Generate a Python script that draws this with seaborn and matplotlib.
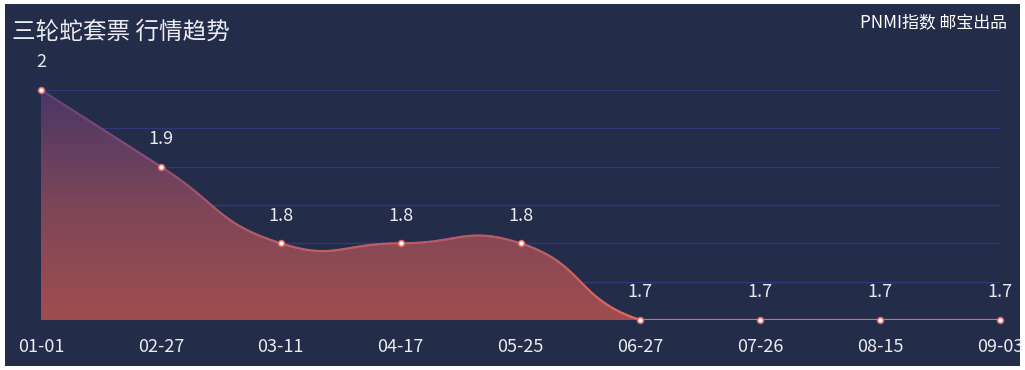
import numpy as np
import matplotlib
matplotlib.use("Agg")
import matplotlib.pyplot as plt
import seaborn as sns
import pandas as pd
from matplotlib.path import Path
from matplotlib.patches import PathPatch, Rectangle
from matplotlib.collections import LineCollection
from matplotlib.colors import LinearSegmentedColormap

# data
dates = ["01-01", "02-27", "03-11", "04-17", "05-25", "06-27", "07-26", "08-15", "09-03"]
prices = [2.0, 1.9, 1.8, 1.8, 1.8, 1.7, 1.7, 1.7, 1.7]
price_labels = ["2", "1.9", "1.8", "1.8", "1.8", "1.7", "1.7", "1.7", "1.7"]
title = "三轮蛇套票 行情趋势"
credit = "PNMI指数 邮宝出品"

BG = "#232c48"
GRID = "#2f3978"
TEXT = "#eaeaf0"

sns.set_theme(style="dark")
plt.rcParams["font.family"] = ["Noto Sans CJK SC", "DejaVu Sans"]

W, H = 1025, 370
fig = plt.figure(figsize=(W / 100, H / 100), dpi=100, facecolor="white")
fig.patches.append(Rectangle((5 / W, 4 / H), 1015 / W, 362 / H, transform=fig.transFigure,
                             facecolor=BG, edgecolor="none", zorder=-10))

x0, x1, ytop, ybot = 41, 1000, 90, 320
ax = fig.add_axes([x0 / W, (H - ybot) / H, (x1 - x0) / W, (ybot - ytop) / H])
ax.set_facecolor("none")

df = pd.DataFrame({"idx": np.arange(len(dates)), "price": prices})
ymin, ymax = 1.7, 2.0
ax.set_xlim(0, len(dates) - 1)
ax.set_ylim(ymin, ymax)

# echarts-like smooth bezier, control points computed in pixel space
sx = (x1 - x0) / (len(dates) - 1)
sy = (ybot - ytop) / (ymax - ymin)
px = df["idx"].values * sx
py = df["price"].values * sy
smooth = 0.5
cps = []
for i in range(len(px)):
    if i == 0 or i == len(px) - 1:
        cps.append(((px[i], py[i]), (px[i], py[i])))
        continue
    vx, vy = px[i + 1] - px[i - 1], py[i + 1] - py[i - 1]
    l0 = np.hypot(px[i] - px[i - 1], py[i] - py[i - 1])
    l1 = np.hypot(px[i + 1] - px[i], py[i + 1] - py[i])
    r = l1 / (l0 + l1)
    cin = (px[i] - vx * smooth * (1 - r), py[i] - vy * smooth * (1 - r))
    cout = (px[i] + vx * smooth * r, py[i] + vy * smooth * r)
    lo, hi = ymin * sy, ymax * sy
    cin = (cin[0], min(max(cin[1], lo), hi))
    cout = (cout[0], min(max(cout[1], lo), hi))
    cps.append((cin, cout))

verts = [(px[0] / sx, py[0] / sy)]
codes = [Path.MOVETO]
for i in range(1, len(px)):
    c1 = cps[i - 1][1]
    c2 = cps[i][0]
    verts += [(c1[0] / sx, c1[1] / sy), (c2[0] / sx, c2[1] / sy), (px[i] / sx, py[i] / sy)]
    codes += [Path.CURVE4] * 3
line_path = Path(verts, codes)
area_path = Path(verts + [(px[-1] / sx, ymin), (0, ymin), (0, ymin)],
                 codes + [Path.LINETO, Path.LINETO, Path.CLOSEPOLY])

# gradient fill
fill_cmap = LinearSegmentedColormap.from_list("fill", ["#a04d50", "#7c4658", "#4a3767"])
grad = np.linspace(0, 1, 256).reshape(-1, 1)
im = ax.imshow(grad, cmap=fill_cmap, origin="lower", aspect="auto",
               extent=[0, len(dates) - 1, ymin, ymax], zorder=2)
clip = PathPatch(area_path, facecolor="none", edgecolor="none", transform=ax.transData)
ax.add_patch(clip)
im.set_clip_path(clip)

# gradient line along the bezier curve
line_cmap = LinearSegmentedColormap.from_list("line", ["#dc6a60", "#a6566a", "#5e437c"])
t = np.linspace(0, 1, 40)
pts = np.vstack([seg(t) for seg, code in line_path.iter_bezier() if code == Path.CURVE4])
segs = np.stack([pts[:-1], pts[1:]], axis=1)
mid = (segs[:, 0, 1] + segs[:, 1, 1]) / 2
lc = LineCollection(segs, colors=line_cmap((mid - ymin) / (ymax - ymin)), linewidths=1.6,
                    zorder=3, capstyle="round")
ax.add_collection(lc)

sns.scatterplot(data=df, x="idx", y="price", ax=ax, s=18, color="#fff3f0",
                edgecolor="#e26c6c", linewidth=1.1, zorder=4, clip_on=False, legend=False)

for i, (v, lab) in enumerate(zip(prices, price_labels)):
    ax.annotate(lab, (i, v), xytext=(0, 20), textcoords="offset points", ha="center",
                va="center", color=TEXT, fontsize=13, annotation_clip=False)

ax.set_yticks(np.arange(1.7, 2.001, 0.05))
ax.set_yticklabels([])
ax.set_xticks(df["idx"])
ax.set_xticklabels(dates)
ax.tick_params(axis="x", length=0, pad=13, labelsize=13, labelcolor=TEXT)
ax.tick_params(axis="y", length=0)
ax.grid(axis="y", color=GRID, linewidth=1)
ax.grid(axis="x", visible=False)
ax.set_xlabel("")
ax.set_ylabel("")
for s in ax.spines.values():
    s.set_visible(False)

fig.text(12 / W, 1 - 32 / H, title, color=TEXT, fontsize=17, ha="left", va="center")
fig.text(1007 / W, 1 - 23 / H, credit, color="white", fontsize=12.2, ha="right", va="center")

fig.savefig("out.png", dpi=100, facecolor="white")
